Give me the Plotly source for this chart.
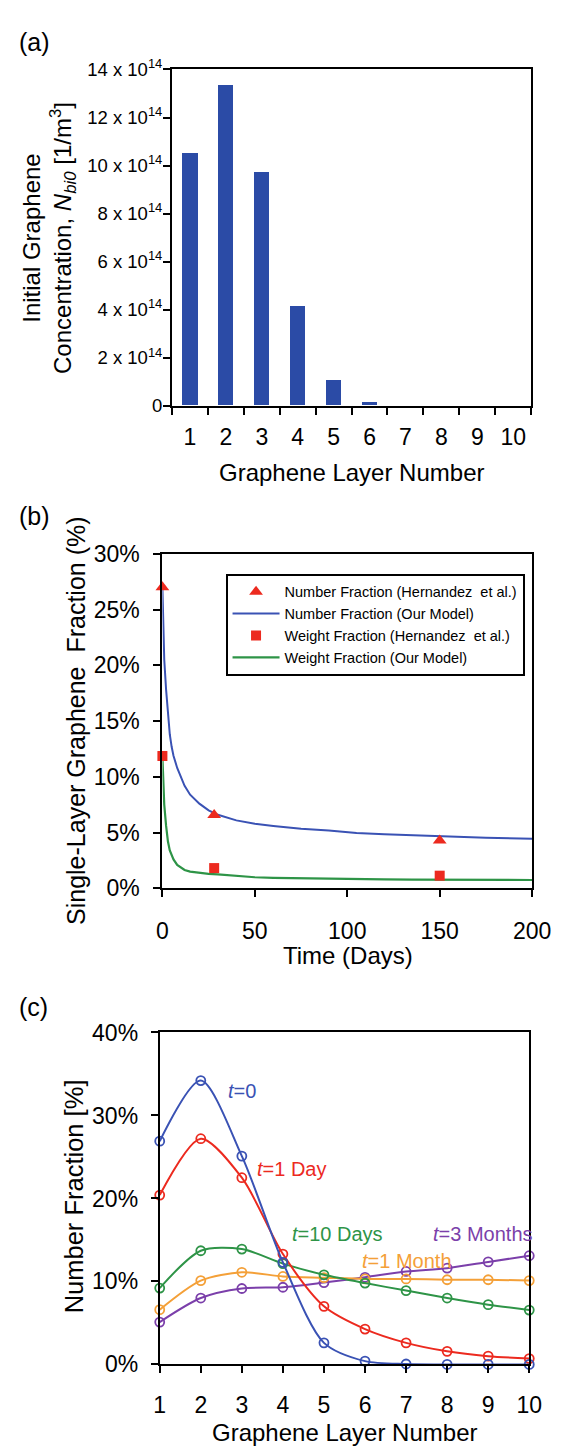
import plotly.graph_objects as go

# ---------------- data ----------------
# (a) initial concentration by layer number
layers = [1, 2, 3, 4, 5, 6, 7, 8, 9, 10]
init_conc = [10.5e14, 13.33e14, 9.73e14, 4.12e14, 1.07e14, 0.16e14, 0.0, 0.0, 0.0, 0.0]
conc_tickvals = [0, 2e14, 4e14, 6e14, 8e14, 10e14, 12e14, 14e14]
conc_ticktext = ["0", "2 x 10<sup>14</sup>", "4 x 10<sup>14</sup>", "6 x 10<sup>14</sup>",
                 "8 x 10<sup>14</sup>", "10 x 10<sup>14</sup>", "12 x 10<sup>14</sup>", "14 x 10<sup>14</sup>"]

# (b) single-layer fraction vs time
model_t = [0, 0.5, 1, 2, 3, 4, 5, 6, 8, 10, 12, 15, 20, 25, 30, 40, 50, 60, 75, 90,
           105, 120, 135, 150, 175, 200]
model_number = [27.0, 24.0, 20.5, 17.8, 15.5, 13.8, 12.7, 11.9, 10.8, 10.0, 9.2, 8.4, 7.6, 7.0,
                6.6, 6.1, 5.8, 5.6, 5.35, 5.2, 4.96, 4.85, 4.75, 4.67, 4.55, 4.45]
model_weight = [11.8, 9.5, 7.5, 5.6, 4.2, 3.4, 2.9, 2.6, 2.1, 1.85, 1.65, 1.5, 1.38, 1.3,
                1.25, 1.1, 1.0, 0.95, 0.9, 0.85, 0.82, 0.8, 0.78, 0.76, 0.75, 0.75]
exp_t = [0, 28, 150]
exp_number = [27.0, 6.58, 4.29]
exp_weight = [11.87, 1.82, 1.14]
time_ticks = [0, 50, 100, 150, 200]
frac_ticks = [0, 5, 10, 15, 20, 25, 30]

# (c) number fraction distributions
dist_t0 = [26.9, 34.2, 25.1, 12.3, 2.6, 0.4, 0.05, 0.0, 0.0, 0.0]
dist_1day = [20.4, 27.2, 22.5, 13.3, 7.0, 4.26, 2.6, 1.58, 1.0, 0.7]
dist_10days = [9.2, 13.7, 13.9, 12.15, 10.8, 9.8, 8.9, 8.0, 7.2, 6.55]
dist_1month = [6.6, 10.1, 11.1, 10.6, 10.45, 10.3, 10.3, 10.2, 10.2, 10.1]
dist_3months = [5.1, 8.0, 9.15, 9.3, 9.86, 10.5, 11.2, 11.6, 12.35, 13.1]
numfrac_ticks = [0, 10, 20, 30, 40]

# ---------------- style ----------------
W, H = 576, 1456
FONT = "Liberation Sans, Arial, Helvetica, sans-serif"
BAR_BLUE = "#2B4BA6"
LINE_BLUE = "#3A52B4"
RED = "#EC2A1F"
GREEN = "#2E9447"
ORANGE = "#F4A038"
PURPLE = "#7B3FAA"


def px(x):
    return x / W


def py(y):
    return 1 - y / H


axis_common = dict(showline=True, linecolor="black", linewidth=2, mirror=True,
                   ticks="outside", ticklen=7, tickwidth=2, tickcolor="black",
                   showgrid=False, zeroline=False, color="black")

fig = go.Figure()

# (a) bars
fig.add_trace(go.Bar(x=layers, y=init_conc, width=0.42, marker_color=BAR_BLUE,
                     marker_line_width=0, showlegend=False, xaxis="x", yaxis="y"))

# (b) lines then markers
fig.add_trace(go.Scatter(x=model_t, y=model_number, mode="lines",
                         line=dict(color=LINE_BLUE, width=2),
                         name="Number Fraction (Our Model)", legendrank=2,
                         xaxis="x2", yaxis="y2"))
fig.add_trace(go.Scatter(x=model_t, y=model_weight, mode="lines",
                         line=dict(color=GREEN, width=2.2),
                         name="Weight Fraction (Our Model)", legendrank=4,
                         xaxis="x2", yaxis="y2"))
fig.add_trace(go.Scatter(x=exp_t, y=exp_number, mode="markers",
                         marker=dict(symbol="triangle-up", size=12, color=RED),
                         name="Number Fraction (Hernandez  et al.)", legendrank=1,
                         cliponaxis=False, xaxis="x2", yaxis="y2"))
fig.add_trace(go.Scatter(x=exp_t, y=exp_weight, mode="markers",
                         marker=dict(symbol="square", size=10, color=RED),
                         name="Weight Fraction (Hernandez  et al.)", legendrank=3,
                         cliponaxis=False, xaxis="x2", yaxis="y2"))

# (c) distributions
for vals, col in [(dist_3months, PURPLE), (dist_1month, ORANGE), (dist_10days, GREEN),
                  (dist_1day, RED), (dist_t0, LINE_BLUE)]:
    fig.add_trace(go.Scatter(x=layers, y=vals, mode="lines+markers",
                             line=dict(color=col, width=2, shape="spline", smoothing=0.8),
                             marker=dict(symbol="circle-open", size=9, color=col,
                                         line=dict(width=1.8, color=col)),
                             cliponaxis=False, showlegend=False,
                             xaxis="x3", yaxis="y3"))

fig.update_layout(
    width=W, height=H,
    margin=dict(l=0, r=0, t=0, b=0),
    paper_bgcolor="white", plot_bgcolor="white",
    font=dict(family=FONT, color="black", size=22),
    bargap=0,
    xaxis=dict(axis_common, domain=[px(173.5), px(549)], range=[0.5, 10.5],
               tickvals=layers, ticks="", tickfont=dict(size=23), ticklabelstandoff=10,
               minor=dict(tickvals=[i + 0.5 for i in range(0, 11)], ticks="outside",
                          ticklen=7, tickwidth=2, tickcolor="black"),
               anchor="y"),
    yaxis=dict(axis_common, domain=[py(400), py(57.5)], range=[0, 14e14],
               tickvals=conc_tickvals, ticktext=conc_ticktext, tickfont=dict(size=18.5),
               ticklabelstandoff=-3, anchor="x"),
    xaxis2=dict(axis_common, domain=[px(163.5), px(550)], range=[0, 200],
                tickvals=time_ticks, tickfont=dict(size=23), ticklabelstandoff=14,
                anchor="y2"),
    yaxis2=dict(axis_common, domain=[py(891.3), py(550.7)], range=[0, 30],
                tickvals=frac_ticks, ticktext=[f"{v}%" for v in frac_ticks],
                tickfont=dict(size=23), ticklabelstandoff=9, anchor="x2"),
    xaxis3=dict(axis_common, domain=[px(160.7), px(547)], range=[1, 10],
                tickvals=layers, tickfont=dict(size=23), ticklabelstandoff=12,
                anchor="y3"),
    yaxis3=dict(axis_common, domain=[py(1376), py(1038)], range=[0, 40],
                tickvals=numfrac_ticks, ticktext=[f"{v}%" for v in numfrac_ticks],
                tickfont=dict(size=23), ticklabelstandoff=8, anchor="x3"),
    legend=dict(x=px(229.5), y=py(571), xanchor="left", yanchor="top",
                bordercolor="black", borderwidth=2, bgcolor="white",
                font=dict(size=14.5, family=FONT), tracegroupgap=0, itemwidth=47),
)

ann = []
# panel labels
for lab, yy in [("(a)", 30), ("(b)", 512), ("(c)", 1012)]:
    ann.append(dict(text=lab, x=px(12), y=py(yy), xref="paper", yref="paper",
                    xanchor="left", yanchor="middle", showarrow=False,
                    font=dict(size=25)))
# axis titles
titles = [
    ("Initial Graphene<br>Concentration, <i>N</i><sub><i>bi0</i></sub> [1/m<sup>3</sup>]", 45, 229, -90, 24),
    ("Graphene Layer Number", 361, 468, 0, 24),
    ("Single-Layer Graphene  Fraction (%)", 73, 720, -90, 25),
    ("Time (Days)", 357, 960, 0, 24),
    ("Number Fraction [%]", 72, 1205, -90, 25.5),
    ("Graphene Layer Number", 354, 1445, 0, 24),
]
for txt, xx, yy, ang, fs in titles:
    ann.append(dict(text=txt, x=px(xx), y=py(yy), xref="paper", yref="paper",
                    xanchor="center", yanchor="middle", textangle=ang,
                    showarrow=False, font=dict(size=fs)))

# curve labels in (c)
curve_labels = [("<i>t</i>=0", 2.61, 33.0, LINE_BLUE),
                ("<i>t</i>=1 Day", 3.31, 23.55, RED),
                ("<i>t</i>=10 Days", 4.17, 15.7, GREEN),
                ("<i>t</i>=3 Months", 7.61, 15.7, PURPLE),
                ("<i>t</i>=1 Month", 5.87, 12.5, ORANGE)]
for txt, xx, yy, col in curve_labels:
    ann.append(dict(text=txt, x=xx, y=yy, xref="x3", yref="y3", xanchor="left",
                    yanchor="middle", showarrow=False, font=dict(size=20, color=col)))

fig.update_layout(annotations=ann)
fig.write_html("out.html")
